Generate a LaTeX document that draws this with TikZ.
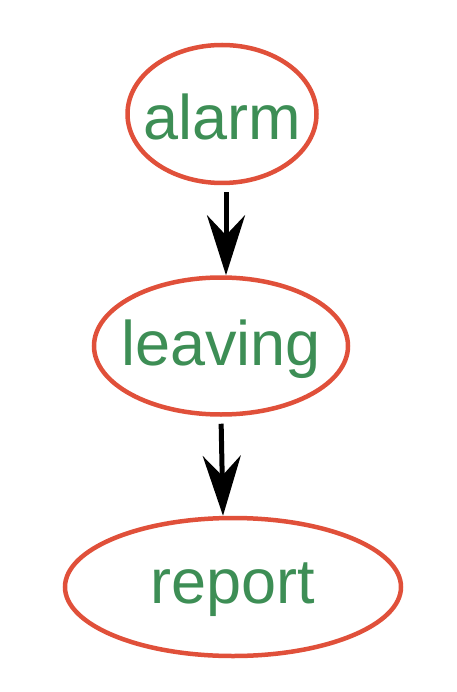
\documentclass[tikz,border=0pt]{standalone}
\usepackage{fontspec}
\setmainfont{Liberation Sans}
\usetikzlibrary{shapes.geometric,arrows.meta}

\definecolor{ringred}{HTML}{E0503A}
\definecolor{wordgreen}{HTML}{3D8E55}

\tikzset{
  state/.style={ellipse,draw=ringred,line width=4.5pt,inner sep=0pt,
    label={[text=wordgreen,font=\fontsize{63}{70}\selectfont,yshift=-3pt]center:#1}},
  flow/.style={line width=5pt,-{Stealth[length=60pt,width=38pt,inset=20pt]},shorten <=7pt}
}

\begin{document}
\begin{tikzpicture}[x=1pt,y=1pt]
			\useasboundingbox (0,0) rectangle (456,-692);
			\node[state=alarm,minimum width=189pt,minimum height=138pt] (alarm) at (222,-114) {};
			\node[state=leaving,minimum width=254pt,minimum height=137pt] (leaving) at (221,-346) {};
			\node[state=report,minimum width=336pt,minimum height=138pt] (report) at (233,-587) {};
			\draw[flow] (alarm.south -| 226,0) -- (leaving.north -| 226,0);
			\draw[flow] (leaving.south) -- (report.north -| 223,0);
		\end{tikzpicture}
\end{document}
